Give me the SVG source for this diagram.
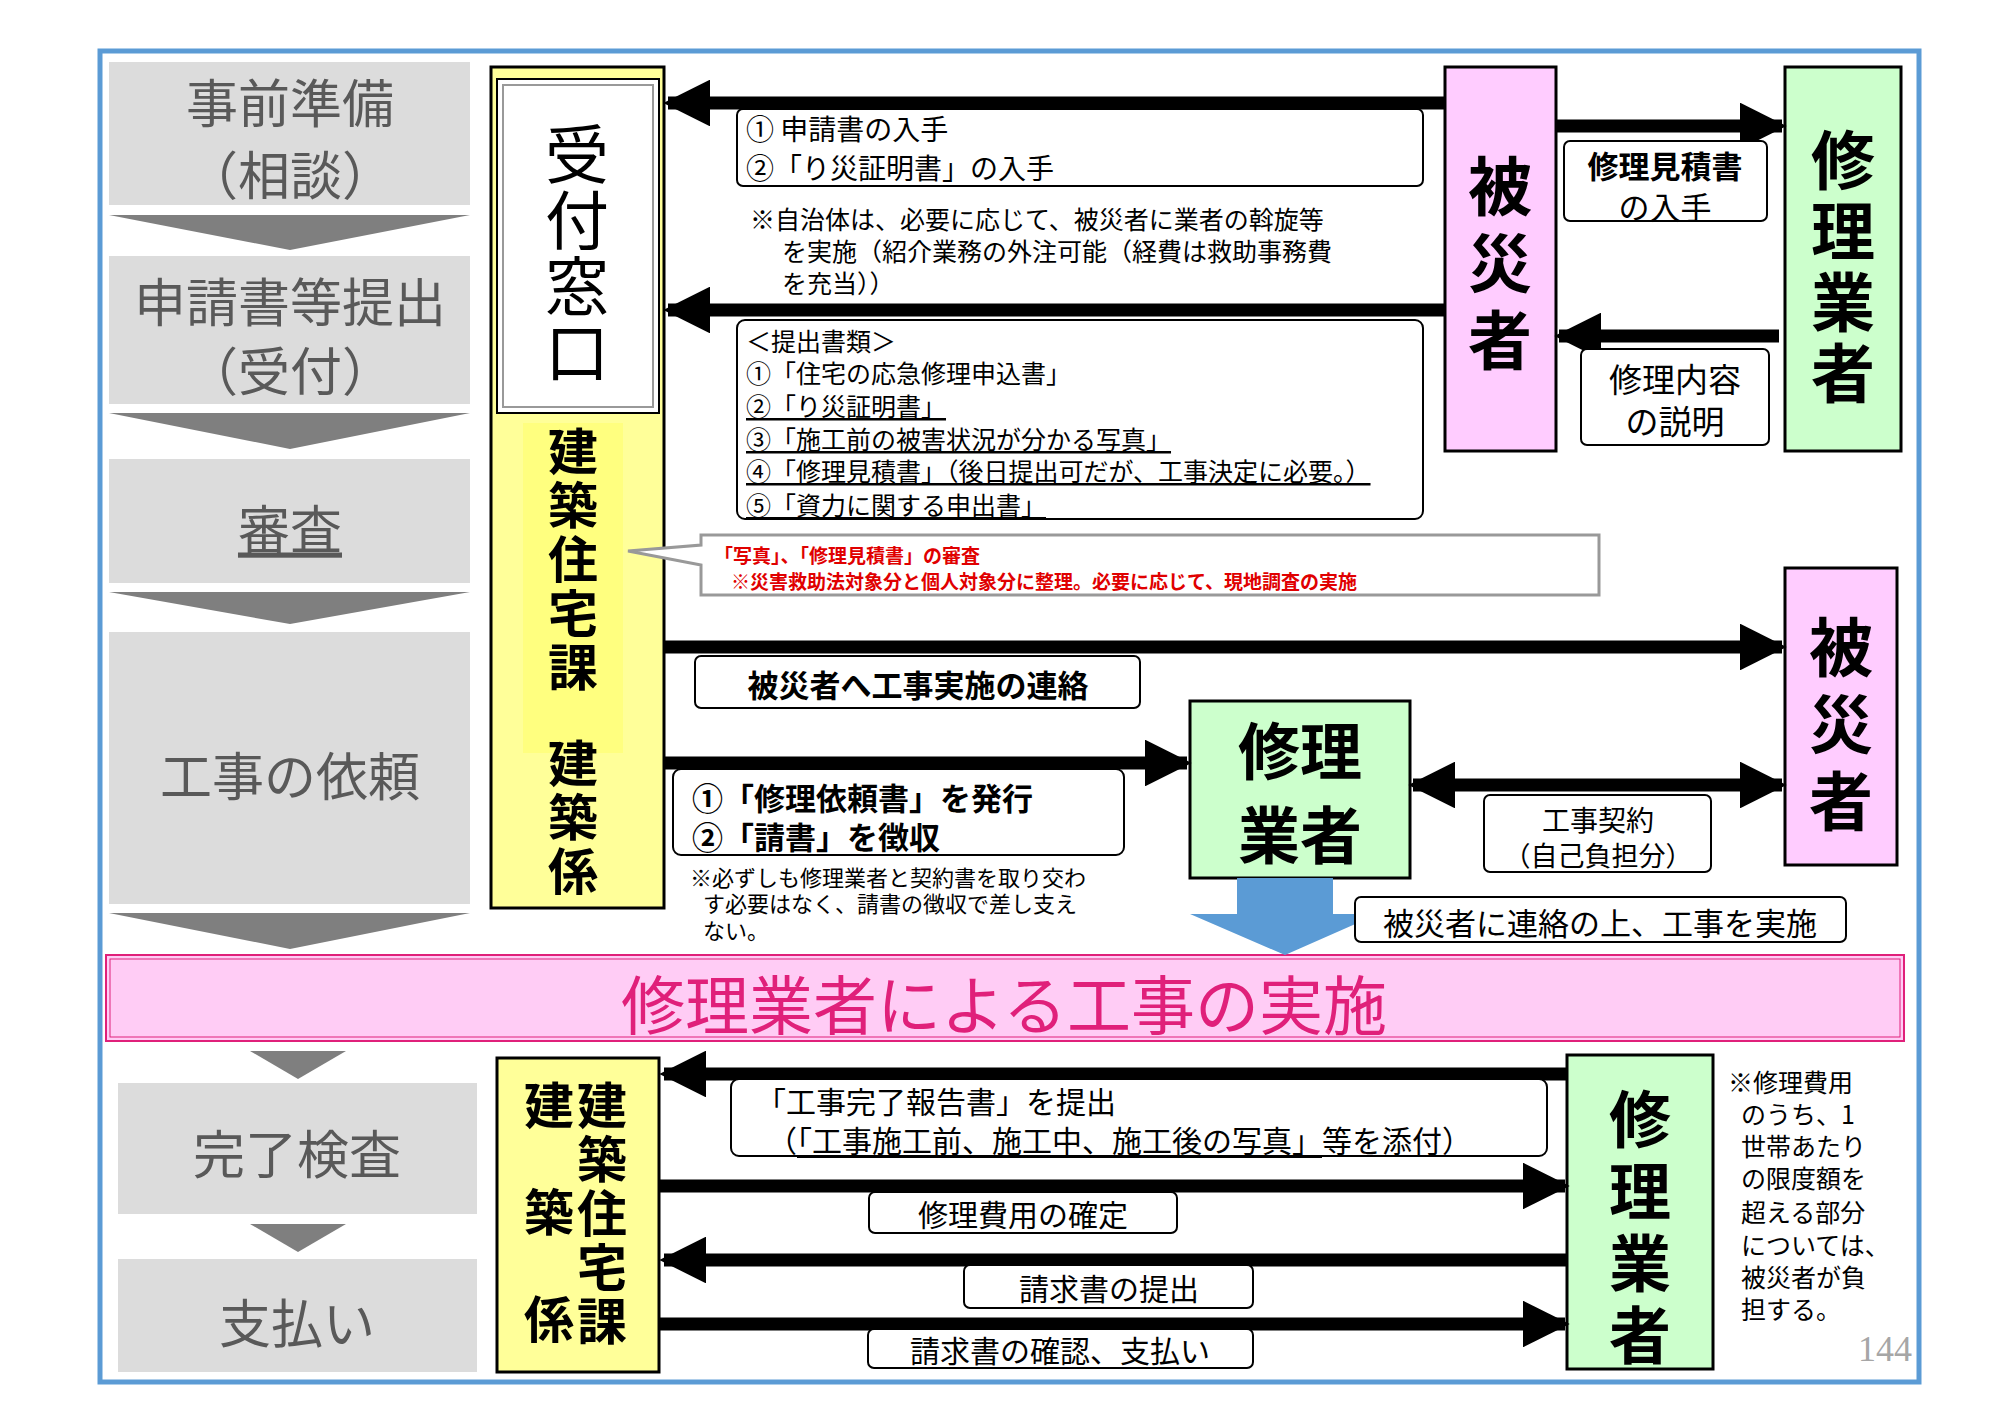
<svg xmlns="http://www.w3.org/2000/svg" width="2000" height="1415" viewBox="0 0 2000 1415">
<defs>
<style>
text{font-family:"Noto Sans CJK JP","Noto Sans",sans-serif;fill:#000}
.g{fill:#dcdcdc}
.gt{font-size:52px;fill:#595959;text-anchor:middle;dominant-baseline:central}
.ch{fill:#7f7f7f}
.lb{fill:#fff;stroke:#000;stroke-width:2}
.t28{font-size:28px;dominant-baseline:central}
.t26{font-size:25px;dominant-baseline:central}
.b31{font-size:31px;font-weight:bold;dominant-baseline:central}
.vt{writing-mode:vertical-rl;text-anchor:middle;font-weight:bold}
.ar{stroke:#000;stroke-width:13;fill:none}
.c{text-anchor:middle}
</style>
<marker id="ah" viewBox="0 0 10 10" refX="9" refY="5" markerWidth="3.6" markerHeight="3.6" orient="auto-start-reverse" markerUnits="strokeWidth"><path d="M0,0L10,5L0,10z" fill="#000"/></marker>
</defs>
<rect width="2000" height="1415" fill="#fff"/>
<rect x="100" y="51" width="1819" height="1331" fill="none" stroke="#5b9bd5" stroke-width="5"/>

<g id="stages">
<rect class="g" x="109" y="62" width="361" height="143"/>
<text class="gt" x="290" y="100">事前準備</text><text class="gt" x="290" y="172">（相談）</text>
<polygon class="ch" points="109,215 470,215 290,250"/>
<rect class="g" x="109" y="256" width="361" height="148"/>
<text class="gt" x="290" y="299">申請書等提出</text><text class="gt" x="290" y="368">（受付）</text>
<polygon class="ch" points="109,413 470,413 290,449"/>
<rect class="g" x="109" y="459" width="361" height="124"/>
<text class="gt" x="290" y="526" text-decoration="underline">審査</text>
<polygon class="ch" points="109,592 470,592 290,624"/>
<rect class="g" x="109" y="632" width="361" height="272"/>
<text class="gt" x="290" y="773">工事の依頼</text>
<polygon class="ch" points="109,913 470,913 290,949"/>
<polygon class="ch" points="250,1051 346,1051 298,1079"/>
<rect class="g" x="118" y="1083" width="359" height="131"/>
<text class="gt" x="297" y="1151">完了検査</text>
<polygon class="ch" points="250,1224 346,1224 298,1252"/>
<rect class="g" x="118" y="1259" width="359" height="113"/>
<text class="gt" x="297" y="1320">支払い</text>
</g>

<g id="banner">
<rect x="106" y="955" width="1798" height="86" fill="#ffccf5" stroke="#e0207a" stroke-width="2"/>
<rect x="110" y="959" width="1790" height="78" fill="none" stroke="#e0207a" stroke-width="1"/>
<text x="1004" y="1001" font-size="64" text-anchor="middle" dominant-baseline="central" style="fill:#e0207a">修理業者による工事の実施</text>
</g>

<g id="kenchiku-upper">
<rect x="491" y="67" width="173" height="841" fill="#ffff99" stroke="#000" stroke-width="3"/>
<rect x="523" y="423" width="100" height="330" fill="#ffff66" opacity="0.5"/>
<rect x="497" y="79" width="162" height="334" fill="#fff" stroke="#000" stroke-width="2"/>
<rect x="503" y="85" width="150" height="322" fill="none" stroke="#999" stroke-width="2"/>
<text class="vt" x="577" y="254" font-size="64" letter-spacing="2" style="font-weight:normal">受付窓口</text>
<text class="vt" x="573" y="561" font-size="50" letter-spacing="4">建築住宅課</text>
<text class="vt" x="573" y="819" font-size="50" letter-spacing="4">建築係</text>
</g>

<g id="hisai-upper">
<rect x="1445" y="67" width="111" height="384" fill="#ffccff" stroke="#000" stroke-width="3"/>
<text class="vt" x="1500" y="269" font-size="64" letter-spacing="13">被災者</text>
</g>
<g id="shuri-upper">
<rect x="1785" y="67" width="116" height="384" fill="#ccffcc" stroke="#000" stroke-width="3"/>
<text class="vt" x="1843" y="270" font-size="64" letter-spacing="7">修理業者</text>
</g>
<g id="hisai-lower">
<rect x="1785" y="568" width="112" height="297" fill="#ffccff" stroke="#000" stroke-width="3"/>
<text class="vt" x="1841" y="730" font-size="64" letter-spacing="13">被災者</text>
</g>
<g id="shuri-mid">
<rect x="1190" y="701" width="220" height="177" fill="#ccffcc" stroke="#000" stroke-width="3"/>
<text x="1300" y="748" font-size="62" font-weight="bold" text-anchor="middle" dominant-baseline="central">修理</text>
<text x="1300" y="832" font-size="62" font-weight="bold" text-anchor="middle" dominant-baseline="central">業者</text>
</g>
<g id="kenchiku-lower">
<rect x="497" y="1058" width="162" height="314" fill="#ffff99" stroke="#000" stroke-width="3"/>
<text class="vt" x="602" y="1215" font-size="50" letter-spacing="4">建築住宅課</text>
<text class="vt" x="549" y="1240" font-size="50" letter-spacing="57">建築係</text>
</g>
<g id="shuri-lower">
<rect x="1567" y="1055" width="146" height="314" fill="#ccffcc" stroke="#000" stroke-width="3"/>
<text class="vt" x="1640" y="1232" font-size="62" letter-spacing="10">修理業者</text>
</g>

<g id="connectors">
<line class="ar" x1="1445" y1="103" x2="668" y2="103" marker-end="url(#ah)"/>
<line class="ar" x1="1445" y1="310" x2="668" y2="310" marker-end="url(#ah)"/>
<line class="ar" x1="1556" y1="126" x2="1782" y2="126" marker-end="url(#ah)"/>
<line class="ar" x1="1779" y1="336" x2="1559" y2="336" marker-end="url(#ah)"/>
<line class="ar" x1="664" y1="647" x2="1782" y2="647" marker-end="url(#ah)"/>
<line class="ar" x1="664" y1="763" x2="1187" y2="763" marker-end="url(#ah)"/>
<line class="ar" x1="1413" y1="785" x2="1782" y2="785" marker-start="url(#ah)" marker-end="url(#ah)"/>
<polygon points="1237,878 1333,878 1333,914 1378,914 1285,955 1190,914 1237,914" fill="#5b9bd5"/>
<line class="ar" x1="1567" y1="1074" x2="664" y2="1074" marker-end="url(#ah)"/>
<line class="ar" x1="659" y1="1186" x2="1565" y2="1186" marker-end="url(#ah)"/>
<line class="ar" x1="1567" y1="1260" x2="664" y2="1260" marker-end="url(#ah)"/>
<line class="ar" x1="659" y1="1324" x2="1565" y2="1324" marker-end="url(#ah)"/>
</g>

<g id="labels">
<rect class="lb" x="737" y="109" width="686" height="77" rx="6"/>
<text class="t28" x="746" y="128">① 申請書の入手</text>
<text class="t28" x="746" y="167">②「り災証明書」の入手</text>
<text class="t26" x="750" y="218">※自治体は、必要に応じて、被災者に業者の斡旋等</text>
<text class="t26" x="782" y="250">を実施（紹介業務の外注可能（経費は救助事務費</text>
<text class="t26" x="782" y="282">を充当））</text>
<rect class="lb" x="737" y="320" width="686" height="199" rx="8"/>
<text class="t26" x="746" y="340">＜提出書類＞</text>
<text class="t26" x="746" y="372">①「住宅の応急修理申込書」</text>
<text class="t26" x="746" y="405" text-decoration="underline">②「り災証明書」</text>
<text class="t26" x="746" y="438" text-decoration="underline">③「施工前の被害状況が分かる写真」</text>
<text class="t26" x="746" y="470" text-decoration="underline">④「修理見積書」（後日提出可だが、工事決定に必要。）</text>
<text class="t26" x="746" y="504" text-decoration="underline">⑤「資力に関する申出書」</text>
<rect class="lb" x="1564" y="141" width="203" height="80" rx="6"/>
<text class="b31 c" x="1665" y="164">修理見積書</text><text class="t28 c" x="1665" y="205" style="font-size:31px">の入手</text>
<rect class="lb" x="1581" y="349" width="188" height="96" rx="6"/>
<text class="t28 c" x="1675" y="378" style="font-size:33px">修理内容</text><text class="t28 c" x="1675" y="420" style="font-size:33px">の説明</text>
<path d="M701,535H1599V595H701V565L628,551L701,545Z" fill="#fff" stroke="#999" stroke-width="3"/>
<text x="714" y="554" font-size="19" font-weight="bold" dominant-baseline="central" style="fill:#e00000">「写真」、「修理見積書」の審査</text>
<text x="731" y="580" font-size="19" font-weight="bold" dominant-baseline="central" style="fill:#e00000">※災害救助法対象分と個人対象分に整理。必要に応じて、現地調査の実施</text>
<rect class="lb" x="695" y="656" width="445" height="52" rx="6"/>
<text class="b31 c" x="918" y="683">被災者へ工事実施の連絡</text>
<rect class="lb" x="673" y="769" width="451" height="86" rx="8"/>
<text class="b31" x="692" y="796">①「修理依頼書」を発行</text>
<text class="b31" x="692" y="835">②「請書」を徴収</text>
<text x="690" y="876" font-size="22" dominant-baseline="central">※必ずしも修理業者と契約書を取り交わ</text>
<text x="703" y="902" font-size="22" dominant-baseline="central">す必要はなく、請書の徴収で差し支え</text>
<text x="703" y="929" font-size="22" dominant-baseline="central">ない。</text>
<rect class="lb" x="1484" y="795" width="227" height="77" rx="6"/>
<text class="t28 c" x="1598" y="819">工事契約</text><text class="t28 c" x="1598" y="854" style="font-size:27px">（自己負担分）</text>
<rect class="lb" x="1355" y="897" width="491" height="45" rx="6"/>
<text class="t28 c" x="1600" y="921" style="font-size:31px">被災者に連絡の上、工事を実施</text>
<rect class="lb" x="731" y="1079" width="816" height="77" rx="8"/>
<text class="t28" x="756" y="1100" style="font-size:30px">「工事完了報告書」を提出</text>
<text class="t28" x="767" y="1139" style="font-size:30px">（<tspan text-decoration="underline">「工事施工前、施工中、施工後の写真」</tspan>等を添付）</text>
<rect class="lb" x="869" y="1192" width="308" height="41" rx="6"/>
<text class="t28 c" x="1023" y="1213" style="font-size:30px">修理費用の確定</text>
<rect class="lb" x="964" y="1265" width="289" height="43" rx="6"/>
<text class="t28 c" x="1109" y="1287" style="font-size:30px">請求書の提出</text>
<rect class="lb" x="868" y="1329" width="385" height="39" rx="6"/>
<text class="t28 c" x="1060" y="1349" style="font-size:30px">請求書の確認、支払い</text>
<text class="t26" x="1728" y="1081">※修理費用</text>
<text class="t26" x="1741" y="1113">のうち、1</text>
<text class="t26" x="1741" y="1145">世帯あたり</text>
<text class="t26" x="1741" y="1177">の限度額を</text>
<text class="t26" x="1741" y="1211">超える部分</text>
<text class="t26" x="1741" y="1244">については、</text>
<text class="t26" x="1741" y="1276">被災者が負</text>
<text class="t26" x="1741" y="1308">担する。</text>
<text x="1885" y="1349" font-size="36" text-anchor="middle" dominant-baseline="central" style="fill:#a6a6a6;font-family:'Liberation Serif',serif">144</text>
</g>
</svg>
